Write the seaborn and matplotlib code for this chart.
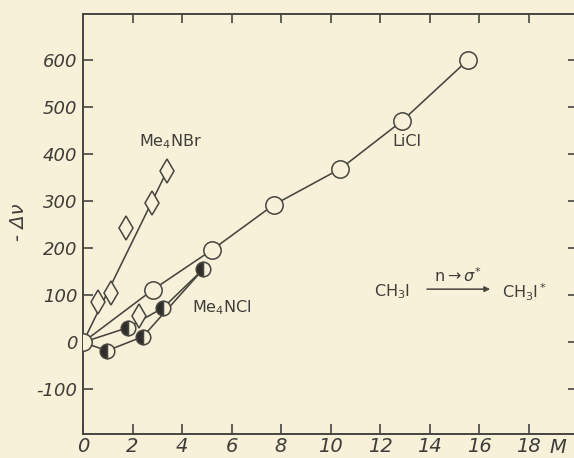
import matplotlib
matplotlib.use("Agg")
import matplotlib.pyplot as plt
import seaborn as sns
from matplotlib.transforms import blended_transform_factory

# ---------------- data ----------------
# LiCl (open circles)
licl_x = [0, 2.83, 5.2, 7.7, 10.4, 12.9, 15.55]
licl_y = [0, 112, 196, 292, 369, 471, 600]

# Me4NBr (open diamonds) and its straight line
nbr_x = [0.6, 1.13, 1.74, 2.26, 2.8, 3.4]
nbr_y = [86, 104, 244, 55, 296, 365]
nbr_line_x = [0, 3.4]
nbr_line_y = [0, 365]

# Me4NCl (half-filled circles) and its two branches
ncl_x = [0.97, 1.8, 2.42, 3.23, 4.85]
ncl_y = [-18, 31, 12, 73, 155]
ncl_upper_x = [0, 1.8, 3.23, 4.85]
ncl_upper_y = [0, 31, 73, 155]
ncl_lower_x = [0, 0.97, 2.42, 4.85]
ncl_lower_y = [0, -18, 12, 155]

xtick_vals = [0, 2, 4, 6, 8, 10, 12, 14, 16, 18]
xtick_labels = ["0", "2", "4", "6", "8", "10", "12", "14", "16", "18"]
top_tick_vals = [2, 4, 6, 8, 10, 12, 14, 16, 18]
ytick_vals = [-100, 0, 100, 200, 300, 400, 500, 600]
ytick_labels = ["-100", "0", "100", "200", "300", "400", "500", "600"]

# ---------------- style ----------------
BG = "#f8f1d9"
INK = "#46453f"
TXT = "#3e3d39"
DARK = "#2f2e2b"

sns.set_style("ticks", {"axes.facecolor": BG, "figure.facecolor": BG,
                        "axes.edgecolor": INK})
plt.rcParams["font.family"] = ["DejaVu Sans"]
plt.rcParams["mathtext.fontset"] = "dejavusans"

fig = plt.figure(figsize=(5.74, 4.58), dpi=100)
fig.patch.set_facecolor(BG)
ax = fig.add_axes([83 / 574, 1 - 434 / 458, 495 / 574, 420 / 458])
ax.set_facecolor(BG)

lw = 1.15
# lines
sns.lineplot(x=licl_x, y=licl_y, ax=ax, color=INK, lw=lw, sort=False,
             estimator=None, zorder=2)
sns.lineplot(x=nbr_line_x, y=nbr_line_y, ax=ax, color=INK, lw=lw, sort=False,
             estimator=None, zorder=2)
sns.lineplot(x=ncl_upper_x, y=ncl_upper_y, ax=ax, color=INK, lw=lw, sort=False,
             estimator=None, zorder=2)
sns.lineplot(x=ncl_lower_x, y=ncl_lower_y, ax=ax, color=INK, lw=lw, sort=False,
             estimator=None, zorder=2)

# markers
sns.lineplot(x=nbr_x, y=nbr_y, ax=ax, linestyle="", marker="d", markersize=12,
             markerfacecolor=BG, markeredgecolor=INK, markeredgewidth=1.1,
             sort=False, estimator=None, zorder=3)
sns.lineplot(x=ncl_x, y=ncl_y, ax=ax, linestyle="", marker="o", markersize=10.5,
             fillstyle="left", markerfacecolor=DARK, markerfacecoloralt=BG,
             markeredgecolor=INK, markeredgewidth=1.1,
             sort=False, estimator=None, zorder=3)
sns.lineplot(x=licl_x, y=licl_y, ax=ax, linestyle="", marker="o", markersize=12.5,
             markerfacecolor=BG, markeredgecolor=INK, markeredgewidth=1.1,
             sort=False, estimator=None, zorder=4)

# ---------------- axes ----------------
ax.set_xlim(0, 20)
ax.set_ylim(-195, 698)
for s in ax.spines.values():
    s.set_linewidth(1.4)
    s.set_color(INK)

ax.set_xticks(xtick_vals)
ax.set_xticklabels(xtick_labels, fontstyle="italic", fontsize=14, color=TXT)
ax.set_yticks(ytick_vals)
ax.set_yticklabels(ytick_labels, fontstyle="italic", fontsize=13, color=TXT)
ax.tick_params(axis="x", direction="in", length=7, width=1.2, color=INK, pad=2,
               top=False, bottom=True)
ax.tick_params(axis="y", direction="in", length=7.5, width=1.2, color=INK, pad=4,
               left=True, right=True)

# top ticks (no labels)
sec = ax.secondary_xaxis("top")
sec.set_xticks(top_tick_vals)
sec.set_xticklabels([])
sec.tick_params(direction="in", length=6.5, width=1.2, color=INK)
sec.spines["top"].set_visible(False)

ax.set_xlabel("")
ax.set_ylabel("")

# axis labels
trans = blended_transform_factory(ax.transData, ax.transAxes)
ax.text(19.2, -0.031, "M", transform=trans, ha="center", va="center",
        fontsize=14, fontstyle="italic", color=TXT, clip_on=False)
fig.text(18 / 574, 1 - 222 / 458, "- Δν", rotation=90, ha="center",
         va="center", fontsize=14, fontstyle="italic", color=TXT)

# annotations
ann = dict(ha="center", va="center", fontsize=11.5, color=TXT)
ax.text(3.52, 426, "Me$_4$NBr", **ann)
ax.text(13.09, 426, "LiCl", **ann)
ax.text(5.62, 73, "Me$_4$NCl", **ann)
ax.text(12.5, 107, "CH$_3$I", **ann)
ax.text(17.86, 107, "CH$_3$I$^*$", **ann)
ax.text(15.15, 141, r"n$\rightarrow\sigma^{*}$", **ann)
ax.annotate("", xy=(16.45, 113), xytext=(13.9, 113),
            arrowprops=dict(arrowstyle="-|>", color=INK, lw=1.1,
                            mutation_scale=8, shrinkA=0, shrinkB=0))

fig.savefig("out.png", dpi=100, facecolor=BG)
